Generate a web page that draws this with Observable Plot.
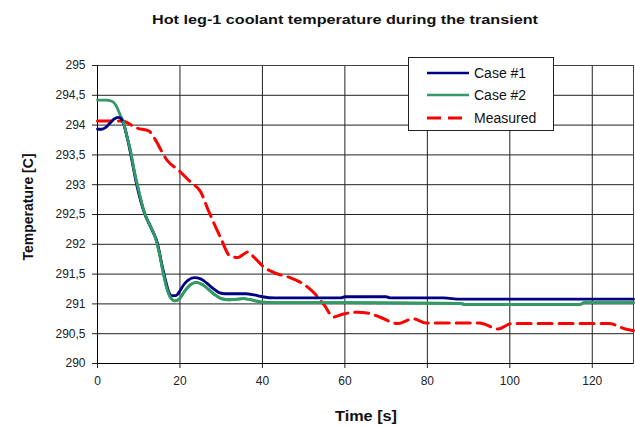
<!DOCTYPE html>
<html>
<head>
<meta charset="utf-8">
<script src="https://cdn.jsdelivr.net/npm/d3@7"></script>
<script src="https://cdn.jsdelivr.net/npm/@observablehq/plot@0.6"></script>
<style>
  html, body { margin: 0; padding: 0; background: #fff; }
  #wrap { position: relative; width: 635px; height: 427px; font-family: "Liberation Sans", Arial, sans-serif; }
  #legend { position: absolute; left: 408px; top: 57px; width: 144px; height: 72px; border: 1px solid #222; background: #fff; font-size: 14px; color: #111; }
  .row { position: absolute; left: 0; height: 20px; display: flex; align-items: center; }
  .row svg { margin-left: 18px; margin-right: 5px; }
</style>
</head>
<body>
<div id="wrap"></div>
<script>
// ---- Data ----
const xTicks = [0, 20, 40, 60, 80, 100, 120];
const yTicks = [290, 290.5, 291, 291.5, 292, 292.5, 293, 293.5, 294, 294.5, 295];

const seriesNames = ["Case #1", "Case #2", "Measured"];
const seriesColors = ["#000080", "#339966", "#ff0000"];

const case1Time = [0, 1, 2, 3, 4, 5, 5.8, 6.5, 7.5, 8.5, 9.5, 10.5, 11.5, 12.5, 13.5, 14.5, 15.5, 16.5, 17.3, 18, 19, 20, 21, 22, 23.5, 25, 26.5, 28, 29.5, 31, 33, 36, 38, 40, 43, 50, 59, 60, 70, 71, 84, 88, 130];
const case1Temp = [293.93, 293.93, 293.96, 294.03, 294.1, 294.13, 294.1, 293.98, 293.7, 293.35, 293.0, 292.72, 292.5, 292.35, 292.2, 292.03, 291.7, 291.4, 291.2, 291.14, 291.14, 291.22, 291.33, 291.4, 291.44, 291.42, 291.35, 291.26, 291.19, 291.17, 291.17, 291.17, 291.15, 291.12, 291.1, 291.1, 291.1, 291.12, 291.12, 291.1, 291.1, 291.08, 291.08];

const case2Time = [0, 2, 3.5, 4.5, 5.5, 6.3, 7, 8, 9, 10, 11, 12, 13, 14, 15, 16, 17, 18, 18.8, 19.8, 21, 22.5, 24, 25.5, 27, 28.5, 30, 32, 34, 35.5, 37, 40, 46, 60, 88, 89, 117, 118, 130];
const case2Temp = [294.42, 294.42, 294.4, 294.33, 294.17, 294.05, 293.85, 293.57, 293.2, 292.9, 292.62, 292.42, 292.28, 292.12, 291.85, 291.5, 291.22, 291.08, 291.05, 291.08, 291.2, 291.32, 291.36, 291.32, 291.24, 291.15, 291.09, 291.07, 291.08, 291.09, 291.07, 291.03, 291.02, 291.02, 291.01, 290.99, 290.99, 291.02, 291.02];

const measTime = [0, 6, 9.5, 12.5, 13.6, 17, 19.7, 22.5, 25, 27, 29.8, 32.2, 34, 36.5, 38, 40.3, 43, 46.7, 49, 52.3, 55, 57.2, 59.6, 63, 66, 68.4, 72.9, 76.5, 79.7, 92.6, 97.2, 100.4, 124, 128, 130];
const measTemp = [294.07, 294.07, 293.95, 293.9, 293.8, 293.4, 293.24, 293.05, 292.88, 292.55, 292.12, 291.8, 291.78, 291.87, 291.78, 291.62, 291.52, 291.44, 291.37, 291.2, 290.98, 290.78, 290.83, 290.86, 290.84, 290.78, 290.67, 290.75, 290.68, 290.68, 290.58, 290.67, 290.67, 290.58, 290.55];

const toRows = (t, v) => t.map((d, i) => ({t: d, v: v[i]}));
const case1 = toRows(case1Time, case1Temp);
const case2 = toRows(case2Time, case2Temp);
const meas = toRows(measTime, measTemp);

const fmt = d => String(d).replace(".", ",");

const chart = Plot.plot({
  width: 635,
  height: 427,
  marginLeft: 97,
  marginRight: 2,
  marginTop: 65,
  marginBottom: 64,
  style: { fontFamily: "'Liberation Sans', Arial, sans-serif", fontSize: "12px", color: "#222", background: "#fff" },
  x: { domain: [0, 130], label: null },
  y: { domain: [290, 295], label: null },
  marks: [
    Plot.gridX(xTicks, { stroke: "#222", strokeOpacity: 1 }),
    Plot.gridY(yTicks, { stroke: "#222", strokeOpacity: 1 }),
    Plot.frame({ stroke: "#444" }),
    Plot.axisX({ ticks: xTicks, tickSize: 5, tickPadding: 8, label: null, stroke: "#222" }),
    Plot.axisY({ ticks: yTicks, tickSize: 5, tickPadding: 7, tickFormat: fmt, label: null, stroke: "#222" }),
    Plot.ruleX([0], { stroke: "#000" }),
    Plot.ruleY([290], { stroke: "#000" }),
    Plot.line(meas, { x: "t", y: "v", stroke: seriesColors[2], strokeWidth: 3, strokeDasharray: "14,7", curve: "monotone-x" }),
    Plot.line(case2, { x: "t", y: "v", stroke: seriesColors[1], strokeWidth: 2.8, curve: "monotone-x" }),
    Plot.line(case1, { x: "t", y: "v", stroke: seriesColors[0], strokeWidth: 2.8, curve: "monotone-x" }),
    Plot.line(case2.filter(d => d.t >= 6), { x: "t", y: "v", stroke: seriesColors[1], strokeWidth: 2.8, curve: "monotone-x" })
  ]
});

const svg = d3.select(chart);
svg.append("text")
  .attr("x", 345).attr("y", 24)
  .attr("text-anchor", "middle")
  .attr("font-weight", "bold").attr("font-size", 12.5)
  .attr("fill", "#111")
  .attr("textLength", 386).attr("lengthAdjust", "spacingAndGlyphs")
  .text("Hot leg-1 coolant temperature during the transient");
svg.append("text")
  .attr("x", 366).attr("y", 421)
  .attr("text-anchor", "middle")
  .attr("font-weight", "bold").attr("font-size", 14)
  .attr("fill", "#111")
  .attr("textLength", 62).attr("lengthAdjust", "spacingAndGlyphs")
  .text("Time [s]");
svg.append("text")
  .attr("transform", "translate(33,207) rotate(-90)")
  .attr("text-anchor", "middle")
  .attr("font-weight", "bold").attr("font-size", 14)
  .attr("fill", "#111")
  .text("Temperature [C]");

const wrap = document.getElementById("wrap");
wrap.appendChild(chart);

const legend = document.createElement("div");
legend.id = "legend";
const rowTops = [5, 27, 50];
seriesNames.forEach((name, i) => {
  const row = document.createElement("div");
  row.className = "row";
  row.style.top = rowTops[i] + "px";
  const dash = i === 2 ? 'stroke-dasharray="14,7"' : "";
  row.innerHTML = `<svg width="42" height="6"><line x1="0" y1="3" x2="42" y2="3" stroke="${seriesColors[i]}" stroke-width="${i === 2 ? 3 : 2.5}" ${dash}/></svg><span>${name}</span>`;
  legend.appendChild(row);
});
wrap.appendChild(legend);
</script>
</body>
</html>
